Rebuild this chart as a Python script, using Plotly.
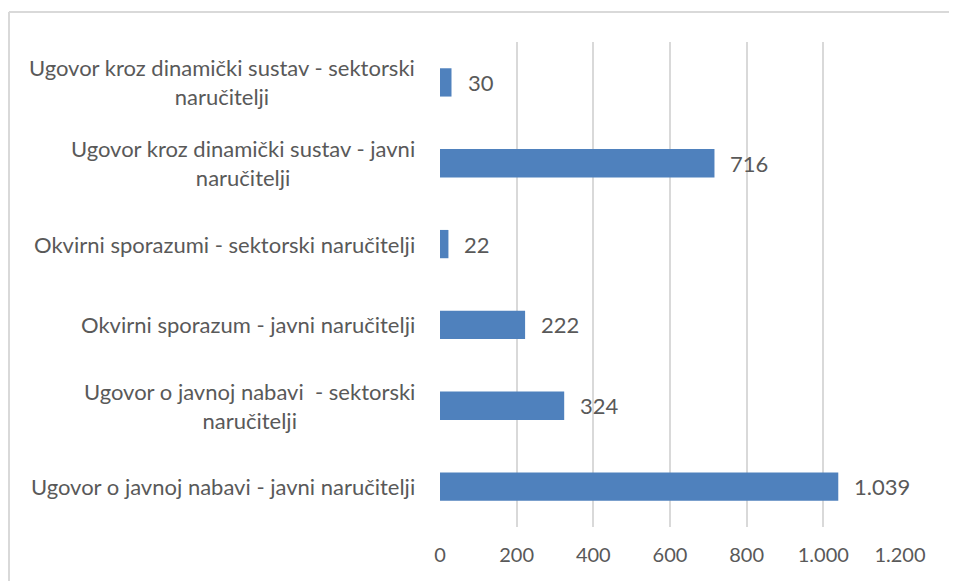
import plotly.graph_objects as go

categories = [
    "Ugovor o javnoj nabavi - javni naručitelji",
    "Ugovor o javnoj nabavi  - sektorski<br>naručitelji",
    "Okvirni sporazum - javni naručitelji",
    "Okvirni sporazumi - sektorski naručitelji",
    "Ugovor kroz dinamički sustav - javni<br>naručitelji",
    "Ugovor kroz dinamički sustav - sektorski<br>naručitelji",
]
values = [1039, 324, 222, 22, 716, 30]
tick_values = [0, 200, 400, 600, 800, 1000, 1200]

FONT = "Lato"
TXT = "#595959"
GRID = "#d9d9d9"
BAR = "#4F81BD"

fig = go.Figure()
fig.add_trace(go.Bar(
    y=list(range(len(categories))),
    x=values,
    orientation="h",
    marker=dict(color=BAR, line=dict(width=0)),
    hoverinfo="skip",
))

annotations = []
for i, (c, v) in enumerate(zip(categories, values)):
    annotations.append(dict(
        x=0, y=i, xref="x", yref="y", text=c, showarrow=False,
        xanchor="right", yanchor="middle", align="center", xshift=-23,
        font=dict(family=FONT, size=22, color=TXT),
    ))
    annotations.append(dict(
        x=v, y=i, xref="x", yref="y", text=f"{v:,}".replace(",", "."),
        showarrow=False, xanchor="left", yanchor="middle", xshift=14,
        font=dict(family=FONT, size=22, color=TXT),
    ))

# page body has an 8px default margin; compensate in size and margins
fig.update_layout(
    width=949, height=573,
    margin=dict(l=432, r=57, t=34, b=54, pad=0),
    paper_bgcolor="white", plot_bgcolor="white",
    separators=",.",
    bargap=0.65,
    showlegend=False,
    annotations=annotations,
    shapes=[
        dict(type="line", xref="paper", yref="paper", x0=-0.9370, x1=-0.9370,
             y0=-0.3, y1=1.0619, line=dict(color=GRID, width=2)),
        dict(type="line", xref="paper", yref="paper", x0=-0.9370, x1=1.3,
             y0=1.0619, y1=1.0619, line=dict(color=GRID, width=2)),
    ],
    xaxis=dict(
        range=[0, 1200], tickvals=tick_values,
        ticktext=[f"{t:,}".replace(",", ".") for t in tick_values],
        showgrid=True, gridcolor=GRID, gridwidth=1.5,
        zeroline=False, showline=False, ticks="",
        ticklabelstandoff=14,
        tickfont=dict(family=FONT, size=20, color=TXT),
        fixedrange=True,
    ),
    yaxis=dict(
        range=[-0.5, len(categories) - 0.5], showticklabels=False,
        showgrid=False, zeroline=False, showline=False, ticks="",
        fixedrange=True,
    ),
)

fig.write_html("out.html")
